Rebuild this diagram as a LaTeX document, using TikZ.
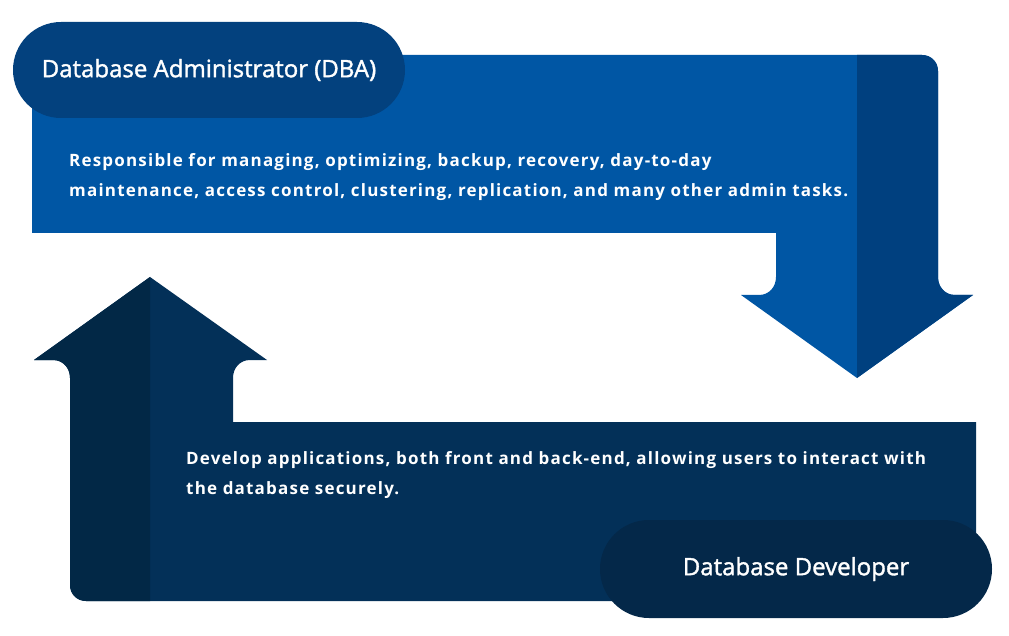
\documentclass[tikz,border=0pt]{standalone}
\usepackage{fontspec}
\setmainfont{Open Sans}
\newfontfamily\descfont{Open Sans}[LetterSpace=7]
\newfontfamily\pillfont{Open Sans}[FakeBold=1.5]
\usetikzlibrary{shapes.misc,positioning}
\definecolor{dbablue}{HTML}{0056A4}
\definecolor{dbashade}{HTML}{00407F}
\definecolor{dbapill}{HTML}{03417E}
\definecolor{devnavy}{HTML}{033058}
\definecolor{devshade}{HTML}{022846}
\definecolor{devpill}{HTML}{042849}

\begin{document}
\begin{tikzpicture}[x=1pt, y=-1pt,
  pill/.style={rounded rectangle, minimum width=392pt, minimum height=96pt, inner sep=0pt, text=white, font=\pillfont\fontsize{24}{28}\selectfont},
  desc/.style={anchor=north west, align=left, inner sep=0pt, text=white, font=\descfont\bfseries\fontsize{17}{30.5}\selectfont}]

    \useasboundingbox[fill=white] (0,0) rectangle (1009,636);

    % DBA band, bending down on the right
    \fill[dbablue] (32,55) -- (922,55) .. controls (931,55) and (938,62) .. (938,71)
        -- (938,277) .. controls (938,287) and (945,295) .. (955,295) -- (973,295)
        -- (857,378) -- (741,295) -- (759,295) .. controls (769,295) and (776,287) .. (776,277)
        -- (776,233) -- (32,233) -- cycle;
    \fill[dbashade] (857,55) -- (922,55) .. controls (931,55) and (938,62) .. (938,71)
        -- (938,277) .. controls (938,287) and (945,295) .. (955,295) -- (973,295)
        -- (857,378) -- cycle;

    % developer band, bending up on the left
    \fill[devnavy] (976,422) -- (976,601) -- (86,601) .. controls (77,601) and (70,594) .. (70,585)
        -- (70,378) .. controls (70,368) and (63,360) .. (53,360) -- (34,360)
        -- (150,277) -- (267,360) -- (250,360) .. controls (240,360) and (233,368) .. (233,378)
        -- (233,422) -- cycle;
    \fill[devshade] (150,277) -- (34,360) -- (53,360) .. controls (63,360) and (70,368) .. (70,378)
        -- (70,585) .. controls (70,594) and (77,601) .. (86,601) -- (150,601) -- cycle;

    \node[pill, fill=dbapill] (dba) at (209,70) {Database Administrator (DBA)};
    \node[desc] (dbatext) at (69,153) {Responsible for managing, optimizing, backup, recovery, day-to-day\\
        maintenance, access control, clustering, replication, and many other admin tasks.};

    \node[pill, fill=devpill, minimum height=98pt] (dev) at (796,569) {Database Developer};
    \node[desc] (devtext) at (186,451) {Develop applications, both front and back-end, allowing users to interact with\\
        the database securely.};

\end{tikzpicture}
\end{document}
